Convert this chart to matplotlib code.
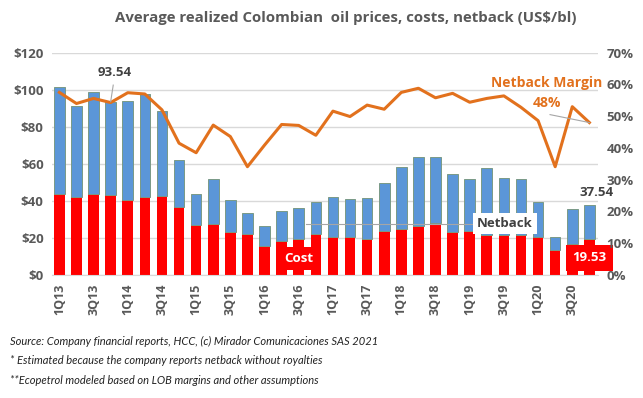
import matplotlib.pyplot as plt
import numpy as np
from matplotlib.ticker import FuncFormatter

quarters = ["1Q13", "2Q13", "3Q13", "4Q13", "1Q14", "2Q14", "3Q14", "4Q14",
            "1Q15", "2Q15", "3Q15", "4Q15", "1Q16", "2Q16", "3Q16", "4Q16",
            "1Q17", "2Q17", "3Q17", "4Q17", "1Q18", "2Q18", "3Q18", "4Q18",
            "1Q19", "2Q19", "3Q19", "4Q19", "1Q20", "2Q20", "3Q20", "4Q20"]
price = [101.7, 91.0, 98.6, 93.54, 93.9, 97.5, 88.5, 61.9,
         43.7, 51.6, 40.3, 33.5, 26.3, 34.5, 36.0, 39.4,
         41.9, 40.8, 41.4, 49.5, 58.1, 63.9, 63.5, 54.3,
         51.6, 57.6, 52.2, 51.6, 39.2, 20.3, 35.4, 37.54]
cost = [43.7, 41.9, 43.7, 43.2, 40.3, 41.9, 42.5, 36.5,
        26.8, 27.5, 23.0, 22.0, 15.5, 18.4, 19.3, 22.0,
        20.3, 20.3, 19.3, 23.7, 24.6, 26.4, 27.9, 23.2,
        23.7, 21.8, 21.8, 21.8, 20.3, 13.5, 16.7, 19.53]
margin = [57.5, 54.0, 55.6, 54.3, 57.4, 57.0, 52.0, 41.5,
          38.5, 47.2, 43.6, 34.1, 40.9, 47.4, 47.1, 44.0,
          51.6, 49.9, 53.5, 52.2, 57.5, 58.8, 55.8, 57.2,
          54.4, 55.6, 56.4, 52.8, 48.6, 34.1, 53.0, 48.0]

netback = np.array(price) - np.array(cost)
x = np.arange(len(quarters))

plt.rcParams['font.family'] = ['Open Sans', 'DejaVu Sans']
grey = "#595959"
orange = "#E2711D"

fig = plt.figure(figsize=(6.43, 3.98), dpi=100)
ax = fig.add_axes([0.0809, 0.309, 0.849, 0.5586])

ax.bar(x, cost, width=0.62, color="#FF0000", zorder=2)
ax.bar(x, netback, width=0.62, bottom=cost, color="#5B96D8",
       edgecolor="#7A9A86", linewidth=0.7, zorder=2)

ax.set_ylim(0, 120)
ax.set_xlim(-0.43, 31.5)
ax.set_yticks(np.arange(0, 121, 20))
ax.yaxis.set_major_formatter(FuncFormatter(lambda v, p: "$%d" % v))
ax.grid(axis="y", color="#D9D9D9", linewidth=1, zorder=0)
ax.set_axisbelow(True)
for s in ax.spines.values():
    s.set_visible(False)
ax.spines["bottom"].set_visible(True)
ax.spines["bottom"].set_color("#D9D9D9")
ax.tick_params(axis="both", length=0, labelsize=9.5, labelcolor=grey, pad=6)
ax.set_xticks(x[::2])
ax.set_xticklabels(quarters[::2], rotation=90, fontweight="bold", fontsize=9)
for t in ax.get_yticklabels():
    t.set_fontweight("bold")

ax2 = ax.twinx()
ax2.plot(x, margin, color=orange, linewidth=2.2, zorder=3)
ax2.set_ylim(0, 70)
ax2.set_yticks(np.arange(0, 71, 10))
ax2.yaxis.set_major_formatter(FuncFormatter(lambda v, p: "%d%%" % v))
ax2.tick_params(axis="y", length=0, labelsize=9.5, labelcolor=grey, pad=6)
for t in ax2.get_yticklabels():
    t.set_fontweight("bold")
for s in ax2.spines.values():
    s.set_visible(False)

# annotations (drawn on ax2 so they sit above the margin line)
to2 = 70 / 120
ax2.text(3.25, 109.2 * to2, "93.54", ha="center", va="center", fontsize=9.5,
         fontweight="bold", color="#404040")
ax2.plot([3.15, 3.0], [102.5 * to2, price[3] * to2], color="#A6A6A6", lw=0.8, zorder=4)
ax2.text(31.4, 44.3 * to2, "37.54", ha="center", va="center", fontsize=9.5,
         fontweight="bold", color="#404040", zorder=5)
ax.plot([14.4, 24.6], [27.8, 27.8], color="#A6A6A6", lw=0.8, zorder=3)
ax.text(26.06, 27.8, "Netback", ha="center", va="center", fontsize=9.5,
        fontweight="bold", color="#404040", zorder=5,
        bbox=dict(facecolor="white", edgecolor="none", pad=3))
ax.text(14.0, 8.8, "Cost", ha="center", va="center", fontsize=9.5,
        fontweight="bold", color="white", zorder=5,
        bbox=dict(facecolor="#FF0000", edgecolor="none", pad=3.5))
ax.text(31.0, 9.2, "19.53", ha="center", va="center", fontsize=9.5,
        fontweight="bold", color="white", zorder=5,
        bbox=dict(facecolor="#FF0000", edgecolor="none", pad=4.5))
ax2.text(28.5, 60.5, "Netback Margin", ha="center", va="center", fontsize=10,
         fontweight="bold", color=orange)
ax2.text(28.5, 54.2, "48%", ha="center", va="center", fontsize=10,
         fontweight="bold", color=orange)
ax2.plot([28.7, 31.0], [50.5, margin[-1]], color="#A6A6A6", lw=0.8, zorder=4)

fig.text(0.537, 0.955, "Average realized Colombian  oil prices, costs, netback (US$/bl)",
         ha="center", va="center", fontsize=10.8, fontweight="bold", color=grey)

notes = ["Source: Company financial reports, HCC, (c) Mirador Comunicaciones SAS 2021",
         "* Estimated because the company reports netback without royalties",
         "**Ecopetrol modeled based on LOB margins and other assumptions"]
for i, n in enumerate(notes):
    fig.text(0.016, 1 - (341 + 19.5 * i) / 398, n, ha="left", va="center",
             fontsize=8.0, style="italic", color="#222222", family="Lato")

plt.savefig("out.png", dpi=100)
